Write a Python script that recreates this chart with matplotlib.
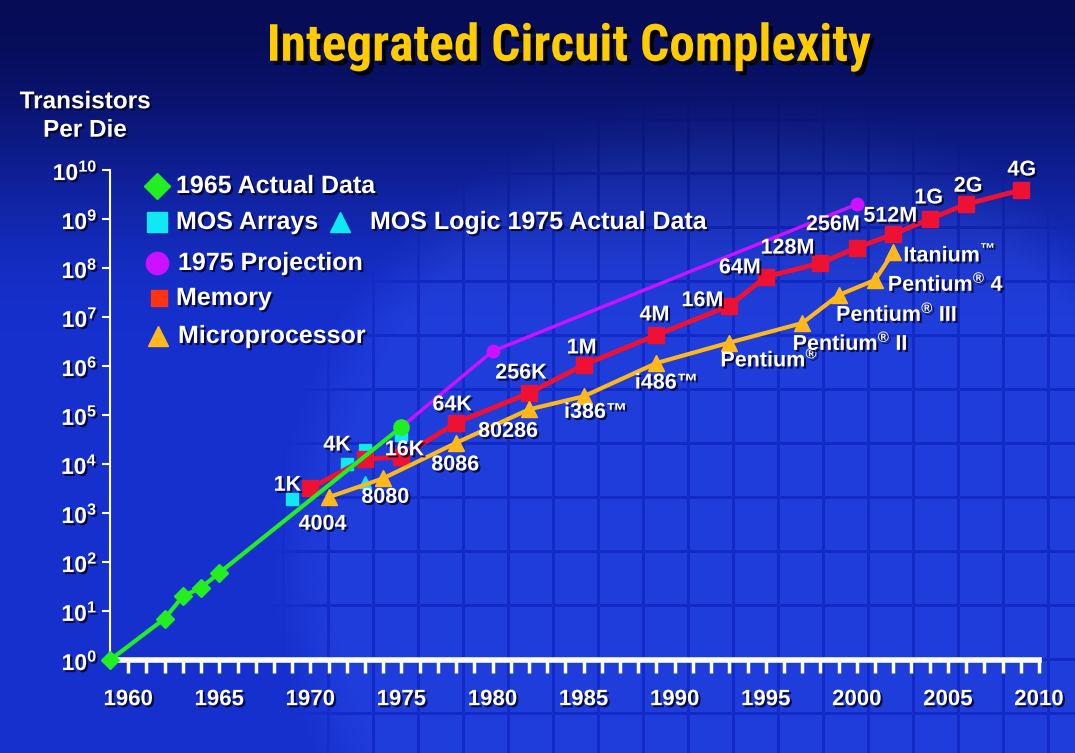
import numpy as np
import matplotlib
matplotlib.use("Agg")
import matplotlib.pyplot as plt
import matplotlib.patheffects as pe
from matplotlib.lines import Line2D
from matplotlib import font_manager

plt.rcParams['font.family'] = ['Liberation Sans', 'DejaVu Sans']
plt.rcParams['font.weight'] = 'bold'
plt.rcParams['mathtext.fontset'] = 'custom'
plt.rcParams['mathtext.rm'] = 'Liberation Sans:bold'
plt.rcParams['mathtext.it'] = 'Liberation Sans:bold'
plt.rcParams['mathtext.bf'] = 'Liberation Sans:bold'

# 1965 data (Moore's original points) and its extrapolation to 1975
moore_years = [1959, 1962, 1963, 1964, 1965]
moore_counts = [1, 7, 20, 30, 60]
moore_1975_year = 1975
moore_1975_count = 57000

# 1975 projection
proj_years = [1980, 2000]
proj_counts = [2.0e6, 2.0e9]

# MOS arrays / MOS logic 1975 actual data
mos_years = [1969, 1972, 1973, 1975]
mos_counts = [1.9e3, 1.0e4, 1.9e4, 3.9e4]
logic_years = [1973]
logic_counts = [4.3e3]

# memory
mem_years = [1970, 1973, 1975, 1978, 1982, 1985, 1989, 1993, 1995, 1998, 2000, 2002, 2004, 2006, 2009]
mem_counts = [3.2e3, 1.26e4, 1.4e4, 6.9e4, 2.8e5, 1.05e6, 4.3e6, 1.7e7, 6.6e7, 1.26e8, 2.6e8, 4.9e8,
              1.0e9, 2.0e9, 3.9e9]
mem_labels = ['1K', '4K', '16K', '64K', '256K', '1M', '4M', '16M', '64M', '128M', '256M', '512M',
              '1G', '2G', '4G']
mem_offsets = [(-23, 3), (-28, 14), (3, 7), (-4, 18), (-8, 20), (-2, 17), (-2, 20), (-27, 5),
               (-26, 9), (-33, 15), (-24, 23), (-3, 18), (-1, 21), (2, 18), (1, 20)]

# microprocessors
cpu_years = [1971, 1974, 1978, 1982, 1985, 1989, 1993, 1997, 1999, 2001, 2002]
cpu_counts = [2.1e3, 5.1e3, 2.7e4, 1.3e5, 2.4e5, 1.15e6, 3.0e6, 7.5e6, 2.8e7, 5.7e7, 2.1e8]
cpu_labels = ['4004', '8080', '8086', '80286', 'i386™', 'i486™', 'Pentium$^{®}$',
              'Pentium$^{®}$ II', 'Pentium$^{®}$ III', 'Pentium$^{®}$ 4', 'Itanium$^{™}$']
cpu_offsets = [(-6, -27), (2, -19), (-1, -22), (-21, -22), (12, -16), (10, -20), (40, -17),
               (48, -20), (58, -19), (71, -4), (56, -3)]

ytick_vals = [10.0 ** k for k in range(11)]
ytick_labels = ['$10^{%d}$' % k for k in range(11)]
xtick_years = list(range(1960, 2011))
xtick_labels = [str(y) if y % 5 == 0 else '' for y in xtick_years]

GREEN = '#22EE22'
CYAN = '#11E8F5'
MAGENTA = '#CC11FF'
RED = '#EE1133'
GOLD = '#FFB81C'

shadow = [pe.withSimplePatchShadow(offset=(1.5, -1.5), shadow_rgbFace='#000022', alpha=0.8)]

# pick a narrow font for the title if one is installed
installed = {f.name for f in font_manager.fontManager.ttflist}
title_font, title_size = 'DejaVu Sans', 29
for name, size in [('Liberation Sans Narrow', 38), ('Roboto Condensed', 37), ('Open Sans Condensed', 38),
                   ('DejaVu Sans Condensed', 34)]:
    if name in installed:
        title_font, title_size = name, size
        break

# background: navy-to-blue gradient with a faint wafer grid
H, W = 753, 1075
yy, xx = np.mgrid[0:H, 0:W].astype(float)
t = np.clip(yy / 330.0, 0, 1)
t = t * t * (3 - 2 * t)
top = np.array([6, 12, 85.0])
low = np.array([22, 48, 205.0])
bg = top + (low - top) * t[..., None]
d = np.hypot(xx - 740, yy - 560)
inside = np.clip((470 - d) / 60, 0, 1) * np.clip(yy / 260.0, 0.3, 1)
grid = (((xx - 12) % 45) < 3) | (((yy - 10) % 54) < 3)
cell = np.where(grid, -4.0, 11.0)
bg[..., 0] += inside * cell * 0.9
bg[..., 1] += inside * cell * 1.2
bg[..., 2] += inside * cell * 1.3
bg = np.clip(bg, 0, 255) / 255.0

fig = plt.figure(figsize=(10.75, 7.53), dpi=100)
axbg = fig.add_axes([0, 0, 1, 1], zorder=-5)
axbg.imshow(bg, aspect='auto', interpolation='bilinear')
axbg.axis('off')

ax = fig.add_axes([110 / 1075, 93 / 753, 929 / 1075, 490 / 753])
ax.patch.set_alpha(0)
ax.set_yscale('log')
ax.set_xlim(1959, 2010)
ax.set_ylim(1, 1e10)

# green 1965 data + extrapolation
ax.plot(moore_years + [moore_1975_year], moore_counts + [moore_1975_count], color=GREEN, lw=3, zorder=6,
        clip_on=False)
ax.plot(moore_years, moore_counts, 'D', color=GREEN, ms=9, zorder=7, clip_on=False)
ax.plot([moore_1975_year], [moore_1975_count], 'o', color=GREEN, ms=11, zorder=7)

# projection
ax.plot([moore_1975_year] + proj_years, [moore_1975_count] + proj_counts, color=MAGENTA, lw=2.5, zorder=3)
ax.plot(proj_years, proj_counts, 'o', color=MAGENTA, ms=9, zorder=3)

# MOS
ax.plot(mos_years, mos_counts, 's', color=CYAN, ms=9, zorder=4)
ax.plot(logic_years, logic_counts, '^', color=CYAN, ms=9, zorder=4)

# memory
ax.plot(mem_years, mem_counts, '-s', color=RED, lw=3.5, ms=11, zorder=5)
for yr, c, lab, off in zip(mem_years, mem_counts, mem_labels, mem_offsets):
    ax.annotate(lab, (yr, c), xytext=off, textcoords='offset pixels', ha='center', va='center',
                color='white', fontsize=15.5, fontweight='bold', path_effects=shadow, zorder=8)

# microprocessors
ax.plot(cpu_years, cpu_counts, '-^', color=GOLD, lw=3, ms=11, zorder=5)
for yr, c, lab, off in zip(cpu_years, cpu_counts, cpu_labels, cpu_offsets):
    ax.annotate(lab, (yr, c), xytext=off, textcoords='offset pixels', ha='center', va='center',
                color='white', fontsize=15.5, fontweight='bold', path_effects=shadow, zorder=8)

# axes styling
for s in ['top', 'right']:
    ax.spines[s].set_visible(False)
ax.spines['left'].set_color('white')
ax.spines['left'].set_linewidth(1.5)
ax.spines['bottom'].set_color('white')
ax.spines['bottom'].set_linewidth(4)
ax.set_yticks(ytick_vals)
ax.set_yticklabels(ytick_labels)
ax.yaxis.set_minor_locator(matplotlib.ticker.NullLocator())
ax.set_xticks(xtick_years)
ax.set_xticklabels(xtick_labels)
ax.tick_params(axis='y', colors='white', length=6, width=1.5, pad=3, labelsize=16.5)
ax.tick_params(axis='x', colors='white', length=9, width=2.5, pad=12, labelsize=16)
for lbl in ax.get_xticklabels() + ax.get_yticklabels():
    lbl.set_fontweight('bold')
    lbl.set_path_effects(shadow)

# title and axis caption
fig.text(569 / 1075, 1 - 47 / 753, 'Integrated Circuit Complexity', ha='center', va='center',
         fontsize=title_size, fontweight='bold', color='#FFCC00', family=[title_font, 'DejaVu Sans'],
         path_effects=[pe.withSimplePatchShadow(offset=(3, -3), shadow_rgbFace='black', alpha=0.9)])
fig.text(85 / 1075, 1 - 116 / 753, 'Transistors\nPer Die', ha='center', va='center', fontsize=17.5,
         fontweight='bold', color='white', linespacing=1.3, path_effects=shadow)

# legend drawn by hand
legend_items = [
    (157, 186, 'D', GREEN, 13, 176, '1965 Actual Data'),
    (157, 222, 's', CYAN, 14, 176, 'MOS Arrays'),
    (340, 222, '^', CYAN, 15, 370, 'MOS Logic 1975 Actual Data'),
    (157, 263, 'o', MAGENTA, 16, 178, '1975 Projection'),
    (159, 298, 's', '#FF3311', 11, 176, 'Memory'),
    (158, 336, '^', GOLD, 15, 178, 'Microprocessor'),
]
for mx, my, mk, col, ms, tx, txt in legend_items:
    fig.add_artist(Line2D([mx / 1075], [1 - my / 753], marker=mk, color=col, ms=ms, ls='none',
                          transform=fig.transFigure))
    fig.text(tx / 1075, 1 - my / 753, txt, ha='left', va='center', fontsize=18, fontweight='bold',
             color='white', path_effects=shadow)

fig.savefig('out.png', dpi=100)
